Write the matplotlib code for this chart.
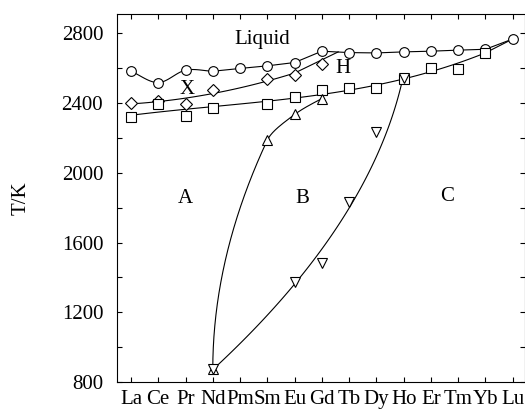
import numpy as np
import matplotlib
matplotlib.use("Agg")
import matplotlib.pyplot as plt

plt.rcParams['font.family'] = ['Liberation Serif', 'DejaVu Serif']

# lanthanides along the x axis
elements = ['La', 'Ce', 'Pr', 'Nd', 'Pm', 'Sm', 'Eu', 'Gd', 'Tb', 'Dy', 'Ho', 'Er', 'Tm', 'Yb', 'Lu']

# liquidus (circles), all 15 elements
liq_T = [2582, 2517, 2588, 2582, 2598, 2613, 2632, 2697, 2689, 2687, 2693, 2697, 2703, 2708, 2767]

# X/H transition (diamonds)
dia_el = ['La', 'Ce', 'Pr', 'Nd', 'Sm', 'Eu', 'Gd']
dia_T = [2401, 2410, 2397, 2477, 2536, 2559, 2626]

# H/C transition (squares)
sq_el = ['La', 'Ce', 'Pr', 'Nd', 'Sm', 'Eu', 'Gd', 'Tb', 'Dy', 'Ho', 'Er', 'Tm', 'Yb']
sq_T = [2317, 2397, 2324, 2374, 2397, 2432, 2473, 2488, 2488, 2536, 2598, 2594, 2689]

# A/B boundary (up triangles)
up_el = ['Nd', 'Sm', 'Eu', 'Gd']
up_T = [873, 2187, 2334, 2425]

# B/C boundary (down triangles)
dn_el = ['Nd', 'Eu', 'Gd', 'Tb', 'Dy', 'Ho']
dn_T = [873, 1375, 1480, 1833, 2234, 2544]

idx = {e: i for i, e in enumerate(elements)}


def catmull(x, y, n=20):
    x = np.asarray(x, float); y = np.asarray(y, float)
    px = np.r_[2 * x[0] - x[1], x, 2 * x[-1] - x[-2]]
    py = np.r_[2 * y[0] - y[1], y, 2 * y[-1] - y[-2]]
    xs, ys = [], []
    t = np.linspace(0, 1, n)
    for i in range(1, len(px) - 2):
        for p, out in ((px, xs), (py, ys)):
            p0, p1, p2, p3 = p[i - 1], p[i], p[i + 1], p[i + 2]
            out.extend(0.5 * (2 * p1 + (-p0 + p2) * t + (2 * p0 - 5 * p1 + 4 * p2 - p3) * t ** 2
                              + (-p0 + 3 * p1 - 3 * p2 + p3) * t ** 3))
    return np.array(xs), np.array(ys)


def pchip(x, y, xn):
    # monotone cubic (Fritsch-Carlson), no overshoot
    x = np.asarray(x, float); y = np.asarray(y, float)
    h = np.diff(x); d = np.diff(y) / h
    m = np.zeros_like(y)
    for k in range(1, len(x) - 1):
        if d[k - 1] * d[k] > 0:
            w1, w2 = 2 * h[k] + h[k - 1], h[k] + 2 * h[k - 1]
            m[k] = (w1 + w2) / (w1 / d[k - 1] + w2 / d[k])
    m[0] = max(((2 * h[0] + h[1]) * d[0] - h[0] * d[1]) / (h[0] + h[1]), 0)
    m[-1] = max(((2 * h[-1] + h[-2]) * d[-1] - h[-1] * d[-2]) / (h[-1] + h[-2]), 0)
    k = np.clip(np.searchsorted(x, xn) - 1, 0, len(x) - 2)
    t = (xn - x[k]) / h[k]
    return ((2 * t**3 - 3 * t**2 + 1) * y[k] + (t**3 - 2 * t**2 + t) * h[k] * m[k]
            + (-2 * t**3 + 3 * t**2) * y[k + 1] + (t**3 - t**2) * h[k] * m[k + 1])


fig = plt.figure(figsize=(5.25, 4.13), dpi=100)
ax = fig.add_axes([0.223, 0.075, 0.777, 0.891])

lw = 0.8
mk = dict(mfc='white', mec='black', mew=0.8, ms=7, ls='none', zorder=3)

# liquidus line
x_liq = np.arange(len(elements))
cx, cy = catmull(x_liq[:4], liq_T[:4])
ax.plot(cx, cy, color='black', lw=lw)
ax.plot(x_liq[3:], liq_T[3:], color='black', lw=lw)
ax.plot(x_liq, liq_T, marker='o', **mk)

# diamonds: smooth fit, joining the liquidus past Gd
xd = np.array([idx[e] for e in dia_el])
c = np.polyfit(xd, dia_T, 2)
xx = np.linspace(0, 6, 60)
ax.plot(np.r_[xx, 7.6], np.r_[np.polyval(c, xx), 2693], color='black', lw=lw)
ax.plot(xd, dia_T, marker='D', **dict(mk, ms=6))

# squares: smooth fit ending at Lu liquidus
xs = np.array([idx[e] for e in sq_el])
c = np.polyfit(np.r_[xs, 14], np.r_[sq_T, liq_T[-1]], 3)
xx = np.linspace(0, 13, 100)
ax.plot(xx, np.polyval(c, xx), color='black', lw=lw)
ax.plot([13, 14], [np.polyval(c, 13), liq_T[-1]], color='black', lw=lw)
ax.plot(xs, sq_T, marker='s', **mk)

# up triangles
xu = np.array([idx[e] for e in up_el])
tt = np.linspace(up_T[0], up_T[-1], 200)
ax.plot(pchip(up_T, xu, tt), tt, color='black', lw=lw)
ax.plot(xu, up_T, marker='^', **mk)

# down triangles (fit leans less on the Eu point)
xn = np.array([idx[e] for e in dn_el])
c = np.polyfit(dn_T, xn, 2, w=[3, 0.3, 1, 1, 1, 3])
tt = np.linspace(dn_T[0], dn_T[-1], 100)
ax.plot(np.polyval(c, tt), tt, color='black', lw=lw)
ax.plot(xn, dn_T, marker='v', **mk)

fs = 15
ax.text(4.83, 2765, 'Liquid', fontsize=fs, ha='center', va='center')
ax.text(7.77, 2600, 'H', fontsize=fs, ha='center', va='center')
ax.text(2.05, 2479, 'X', fontsize=fs, ha='center', va='center')
ax.text(2.0, 1854, 'A', fontsize=fs, ha='center', va='center')
ax.text(6.27, 1854, 'B', fontsize=fs, ha='center', va='center')
ax.text(11.6, 1866, 'C', fontsize=fs, ha='center', va='center')

ax.set_xlim(-0.51, 14.45)
ax.set_ylim(800, 2910)
ax.set_xticks(range(len(elements)))
ax.set_xticklabels(elements)
ax.set_yticks(np.arange(800, 2801, 400))
ax.set_yticks(np.arange(1000, 2801, 400), minor=True)
ax.tick_params(which='both', direction='in', top=True, right=True, length=3.6, width=0.8, labelsize=fs)
ax.tick_params(axis='x', pad=6)
ax.tick_params(axis='y', pad=10)
ax.set_ylabel('T/K', fontsize=fs, labelpad=22)
for s in ax.spines.values():
    s.set_linewidth(0.8)

fig.savefig('out.png', dpi=100)
